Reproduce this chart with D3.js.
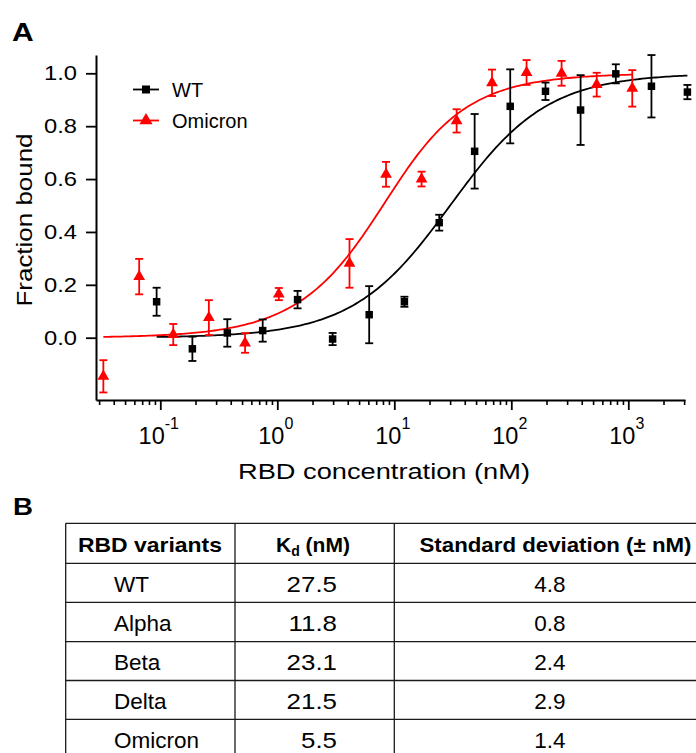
<!DOCTYPE html>
<html>
<head>
<meta charset="utf-8">
<script src="https://cdn.jsdelivr.net/npm/d3@7"></script>
<style>
  body { margin: 0; background: #fff; }
  text { font-family: "Liberation Sans", Arial, sans-serif; }
</style>
</head>
<body>
<script>
// ---- data ----
const wtConc = [0.093, 0.188, 0.374, 0.75, 1.49, 2.97, 6.1, 12.2, 24.2, 48.6, 97.9, 196, 391, 782, 1577, 3200]
const wtFrac = [0.136, -0.042, 0.018, 0.027, 0.144, -0.005, 0.087, 0.136, 0.435, 0.705, 0.875, 0.932, 0.861, 0.998, 0.951, 0.929]
const wtErr = [0.053, 0.046, 0.052, 0.042, 0.033, 0.023, 0.108, 0.019, 0.03, 0.141, 0.14, 0.033, 0.132, 0.036, 0.118, 0.027]

const omiConc = [0.0326, 0.066, 0.129, 0.26, 0.53, 1.03, 4.14, 8.5, 17.1, 34.1, 68.4, 135, 269, 537, 1081]
const omiFrac = [-0.146, 0.231, 0.012, 0.076, -0.02, 0.165, 0.281, 0.618, 0.6, 0.82, 0.964, 1.003, 1.0, 0.957, 0.943]
const omiErr = [0.061, 0.067, 0.04, 0.066, 0.037, 0.023, 0.092, 0.047, 0.028, 0.044, 0.05, 0.047, 0.047, 0.045, 0.069]

const variants = ["WT", "Alpha", "Beta", "Delta", "Omicron"]
const kdValues = [27.5, 11.8, 23.1, 21.5, 5.5]
const sdValues = [4.8, 0.8, 2.4, 2.9, 1.4]

const yTicks = [0, 0.2, 0.4, 0.6, 0.8, 1.0]
const xMajor = [0.1, 1, 10, 100, 1000]
const receptorConc = 5 // nM, used by the quadratic binding fit

const font = '"Liberation Sans", Arial, sans-serif'

const svg = d3.select("body").append("svg")
    .attr("width", 696)
    .attr("height", 753)

// stretch text horizontally a bit, the original is wider than Arial
function stretch(sel, k) {
    sel.each(function () {
        let w = this.getComputedTextLength()
        d3.select(this).attr("textLength", w * k).attr("lengthAdjust", "spacingAndGlyphs")
    })
}

// ---- panel A ----
const x = d3.scaleLog()
    .domain([Math.pow(10, -1.5496), Math.pow(10, 3.4846)])
    .range([96, 685])
const y = d3.scaleLinear()
    .domain([-0.2356, 1.0692])
    .range([400, 55])

svg.append("text")
    .attr("x", 12).attr("y", 41)
    .style("font-size", "25px").style("font-weight", "bold")
    .text("A")
    .call(stretch, 1.2)

// minor ticks
let minor = []
for (let e = -2; e <= 3; e++) {
    for (let m = 2; m <= 9; m++) {
        let v = m * Math.pow(10, e)
        if (v >= x.domain()[0] && v <= x.domain()[1]) minor.push(v)
    }
}
svg.append("g")
    .attr("transform", "translate(0,400)")
    .call(d3.axisBottom(x).tickValues(minor).tickSize(5).tickFormat(""))
    .call(g => g.select(".domain").remove())
    .selectAll("line").attr("stroke", "#000").attr("stroke-width", 1.6)

let xAxis = svg.append("g")
    .attr("transform", "translate(0,400)")
    .call(d3.axisBottom(x).tickValues(xMajor).tickSize(10).tickSizeOuter(0).tickFormat(""))
xAxis.select(".domain").attr("stroke-width", 2)
xAxis.selectAll("line").attr("stroke-width", 1.8)
xAxis.selectAll(".tick").append("text")
    .attr("fill", "#000")
    .attr("x", -2).attr("y", 43.5)
    .attr("text-anchor", "middle")
    .style("font-size", "23.5px")
    .style("font-family", font)
    .each(function (d) {
        let t = d3.select(this)
        t.append("tspan").text("10")
        t.append("tspan").attr("dy", -15).style("font-size", "16px").text(Math.round(Math.log10(d)))
    })

let yAxis = svg.append("g")
    .attr("transform", "translate(96,0)")
    .call(d3.axisLeft(y).tickValues(yTicks).tickSize(10).tickSizeOuter(0).tickPadding(9)
        .tickFormat(d3.format(".1f")))
yAxis.select(".domain").attr("stroke-width", 2)
yAxis.selectAll("line").attr("stroke-width", 1.8)
yAxis.selectAll("text")
    .style("font-size", "20px").style("font-family", font).attr("fill", "#000")
    .attr("textLength", 33).attr("lengthAdjust", "spacingAndGlyphs")

svg.append("text")
    .attr("x", 384).attr("y", 479)
    .attr("text-anchor", "middle")
    .style("font-size", "22px")
    .attr("textLength", 292).attr("lengthAdjust", "spacingAndGlyphs")
    .text("RBD concentration (nM)")

svg.append("text")
    .attr("transform", "translate(32,220) rotate(-90)")
    .attr("text-anchor", "middle")
    .style("font-size", "22px")
    .attr("textLength", 173).attr("lengthAdjust", "spacingAndGlyphs")
    .text("Fraction bound")

// quadratic (ligand depletion) binding model from the table Kd
function bound(c, kd) {
    let s = receptorConc + c + kd
    return (s - Math.sqrt(s * s - 4 * receptorConc * c)) / (2 * receptorConc)
}
function fitLine(conc, kd) {
    let lo = Math.log10(d3.min(conc)), hi = Math.log10(d3.max(conc))
    let pts = d3.range(0, 201).map(i => Math.pow(10, lo + (hi - lo) * i / 200))
    return d3.line()
        .x(c => x(c))
        .y(c => y(bound(c, kd)))(pts)
}

svg.append("path")
    .attr("d", fitLine(wtConc, kdValues[0]))
    .attr("fill", "none").attr("stroke", "#000").attr("stroke-width", 1.8)
svg.append("path")
    .attr("d", fitLine(omiConc, kdValues[4]))
    .attr("fill", "none").attr("stroke", "#ff0000").attr("stroke-width", 1.8)

function drawSeries(conc, frac, err, color, shape) {
    let g = svg.append("g")
    let pts = conc.map((c, i) => ({ c: c, v: frac[i], e: err[i] }))
    let bars = g.selectAll(".eb").data(pts).enter().append("g")
    bars.append("line")
        .attr("x1", d => x(d.c)).attr("x2", d => x(d.c))
        .attr("y1", d => y(d.v - d.e)).attr("y2", d => y(d.v + d.e))
        .attr("stroke", color).attr("stroke-width", 1.8)
    bars.append("line")
        .attr("x1", d => x(d.c) - 4).attr("x2", d => x(d.c) + 4)
        .attr("y1", d => y(d.v - d.e)).attr("y2", d => y(d.v - d.e))
        .attr("stroke", color).attr("stroke-width", 1.8)
    bars.append("line")
        .attr("x1", d => x(d.c) - 4).attr("x2", d => x(d.c) + 4)
        .attr("y1", d => y(d.v + d.e)).attr("y2", d => y(d.v + d.e))
        .attr("stroke", color).attr("stroke-width", 1.8)
    g.selectAll(".mk").data(pts).enter().append("path")
        .attr("transform", d => `translate(${x(d.c)},${y(d.v)})`)
        .attr("d", d3.symbol().type(shape).size(shape === d3.symbolSquare ? 56 : 60))
        .attr("fill", color)
}
drawSeries(wtConc, wtFrac, wtErr, "#000", d3.symbolSquare)
drawSeries(omiConc, omiFrac, omiErr, "#ff0000", d3.symbolTriangle)

// legend
const legend = [
    { name: "WT", color: "#000", shape: d3.symbolSquare, yy: 89.5 },
    { name: "Omicron", color: "#ff0000", shape: d3.symbolTriangle, yy: 120.5 }
]
let lg = svg.selectAll(".lg").data(legend).enter().append("g")
    .attr("transform", d => `translate(146,${d.yy})`)
lg.append("line")
    .attr("x1", -13).attr("x2", 13)
    .attr("stroke", d => d.color).attr("stroke-width", 1.8)
lg.append("path")
    .attr("d", d => d3.symbol().type(d.shape).size(d.shape === d3.symbolSquare ? 64 : 75)())
    .attr("fill", d => d.color)
lg.append("text")
    .attr("x", 26).attr("y", 7)
    .style("font-size", "20px")
    .text(d => d.name)

// ---- panel B: table ----
svg.append("text")
    .attr("x", 13).attr("y", 515)
    .style("font-size", "24px").style("font-weight", "bold")
    .text("B")
    .call(stretch, 1.15)

const colX = [65.7, 235, 394.3, 698]
const rowY = [523.3, 563.3, 602.3, 641.7, 680.5, 719.3, 758]

let tbl = svg.append("g").attr("stroke", "#1a1a1a").attr("stroke-width", 1.3)
tbl.selectAll(".h").data(rowY).enter().append("line")
    .attr("x1", colX[0]).attr("x2", colX[3])
    .attr("y1", d => d).attr("y2", d => d)
tbl.selectAll(".v").data(colX).enter().append("line")
    .attr("x1", d => d).attr("x2", d => d)
    .attr("y1", rowY[0]).attr("y2", rowY[6])

svg.append("text")
    .attr("x", 150).attr("y", 551.7).attr("text-anchor", "middle")
    .style("font-size", "21px").style("font-weight", "bold")
    .attr("textLength", 144).attr("lengthAdjust", "spacingAndGlyphs")
    .text("RBD variants")

let kdHead = svg.append("text")
    .attr("x", 313).attr("y", 551.7).attr("text-anchor", "middle")
    .style("font-size", "21px").style("font-weight", "bold")
kdHead.append("tspan").text("K")
kdHead.append("tspan").attr("dy", 4).style("font-size", "14px").text("d")
kdHead.append("tspan").attr("dy", -4).text(" (nM)")

svg.append("text")
    .attr("x", 555.5).attr("y", 551.7).attr("text-anchor", "middle")
    .style("font-size", "21px").style("font-weight", "bold")
    .attr("textLength", 272).attr("lengthAdjust", "spacingAndGlyphs")
    .text("Standard deviation (\u00b1 nM)")

let rows = svg.selectAll(".row").data(variants).enter().append("g")
    .attr("transform", (d, i) => `translate(0,${(rowY[i + 1] + rowY[i + 2]) / 2 + 9})`)
rows.append("text")
    .attr("x", 114)
    .style("font-size", "22.5px")
    .text(d => d)
rows.append("text")
    .attr("x", 337).attr("text-anchor", "end")
    .style("font-size", "22.5px")
    .text((d, i) => kdValues[i].toFixed(1))
    .call(stretch, 1.15)
rows.append("text")
    .attr("x", 550).attr("text-anchor", "middle")
    .style("font-size", "22.5px")
    .text((d, i) => sdValues[i].toFixed(1))
</script>
</body>
</html>
